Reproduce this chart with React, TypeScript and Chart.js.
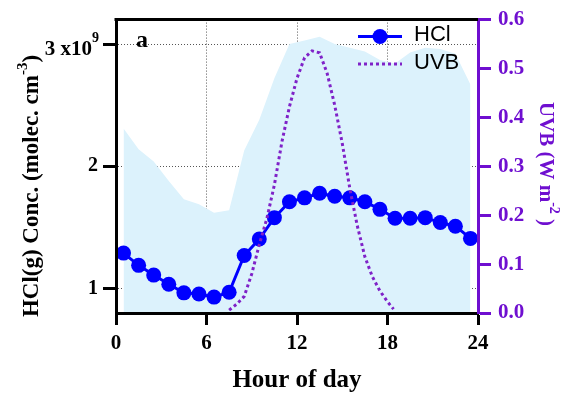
import { useEffect, useRef } from 'react';
import { Chart, registerables } from 'chart.js';

Chart.register(...registerables);

const SERIF = '"Liberation Serif", "Times New Roman", serif';
const SANS = '"Liberation Sans", Arial, sans-serif';
const BLUE = '#0000ff';
const PURPLE = '#6f0fd0';
const UVB_LINE = '#7f22c8';
const SHADE = '#dcf2fc';
const GRID = '#555555';

// Hourly HCl(g) means (x10^9 molec. cm^-3) and the upper envelope of the spread
const hours = [
  0.5, 1.5, 2.5, 3.5, 4.5, 5.5, 6.5, 7.5, 8.5, 9.5, 10.5, 11.5,
  12.5, 13.5, 14.5, 15.5, 16.5, 17.5, 18.5, 19.5, 20.5, 21.5, 22.5, 23.5,
];
const hclConc = [
  1.29, 1.19, 1.11, 1.035, 0.965, 0.955, 0.93, 0.97, 1.27, 1.405, 1.58, 1.71,
  1.742, 1.78, 1.755, 1.742, 1.71, 1.648, 1.575, 1.575, 1.58, 1.54, 1.51, 1.41,
];
const hclUpper = [
  2.31, 2.14, 2.04, 1.88, 1.73, 1.69, 1.62, 1.64, 2.13, 2.38, 2.72, 3.0,
  3.03, 3.06, 3.0, 2.97, 2.94, 2.87, 2.84, 2.93, 2.97, 2.96, 2.92, 2.67,
];

// UVB irradiance (W m^-2) through the daylight hours
const uvbHours = [
  7.5, 8.0, 8.5, 9.0, 9.5, 10.0, 10.5, 11.0, 11.5, 12.0, 12.5, 13.0,
  13.5, 14.0, 14.5, 15.0, 15.5, 16.0, 16.5, 17.0, 17.5, 18.0, 18.4,
];
const uvbValues = [
  0.006, 0.018, 0.034, 0.08, 0.14, 0.193, 0.262, 0.35, 0.422, 0.48, 0.522, 0.536,
  0.532, 0.49, 0.425, 0.347, 0.255, 0.178, 0.115, 0.074, 0.045, 0.023, 0.008,
];

const hourTicks = [0, 6, 12, 18, 24];
const concTicks = [1, 2, 3];
const uvbTicks = [0, 0.1, 0.2, 0.3, 0.4, 0.5, 0.6];

const decorations = {
  id: 'decorations',
  afterDraw(chart: any) {
    const { ctx, chartArea: a } = chart;
    const yScale = chart.scales.y;
    ctx.save();

    // top frame line
    ctx.strokeStyle = '#000';
    ctx.lineWidth = 3;
    ctx.beginPath();
    ctx.moveTo(a.left - 1.5, a.top);
    ctx.lineTo(a.right, a.top);
    ctx.stroke();

    // panel letter
    ctx.fillStyle = '#000';
    ctx.textAlign = 'left';
    ctx.textBaseline = 'alphabetic';
    ctx.font = `bold 24px ${SERIF}`;
    ctx.fillText('a', 136, 47);

    // top tick label carries the exponent
    const y3 = yScale.getPixelForValue(3);
    ctx.font = `bold 21px ${SERIF}`;
    ctx.textAlign = 'right';
    ctx.fillText('3 x10', 92, y3 + 11);
    ctx.font = `bold 14px ${SERIF}`;
    ctx.textAlign = 'left';
    ctx.fillText('9', 92, y3 - 2);

    // legend
    const lx0 = 358;
    const lx1 = 402;
    ctx.strokeStyle = BLUE;
    ctx.lineWidth = 3;
    ctx.beginPath();
    ctx.moveTo(lx0, 36.5);
    ctx.lineTo(lx1, 36.5);
    ctx.stroke();
    ctx.fillStyle = BLUE;
    ctx.beginPath();
    ctx.arc((lx0 + lx1) / 2, 36.5, 7.5, 0, Math.PI * 2);
    ctx.fill();
    ctx.strokeStyle = UVB_LINE;
    ctx.setLineDash([3, 3]);
    ctx.beginPath();
    ctx.moveTo(lx0, 64);
    ctx.lineTo(lx1, 64);
    ctx.stroke();
    ctx.setLineDash([]);
    ctx.fillStyle = '#000';
    ctx.font = `22px ${SANS}`;
    ctx.textBaseline = 'middle';
    ctx.fillText('HCl', 414, 35);
    ctx.fillText('UVB', 414, 63);

    // x axis title
    ctx.textBaseline = 'alphabetic';
    ctx.textAlign = 'center';
    ctx.font = `bold 25px ${SERIF}`;
    ctx.fillText('Hour of day', (a.left + a.right) / 2, 387);

    // left axis title
    ctx.save();
    ctx.translate(38, 186);
    ctx.rotate(-Math.PI / 2);
    ctx.textAlign = 'left';
    const leftMain = 'HCl(g) Conc. (molec. cm';
    ctx.font = `bold 23px ${SERIF}`;
    const lw1 = ctx.measureText(leftMain).width;
    const lw3 = ctx.measureText(')').width;
    ctx.font = `bold 15px ${SERIF}`;
    const lw2 = ctx.measureText('-3').width;
    let lx = -(lw1 + lw2 + lw3) / 2;
    ctx.font = `bold 23px ${SERIF}`;
    ctx.fillText(leftMain, lx, 0);
    lx += lw1;
    ctx.font = `bold 15px ${SERIF}`;
    ctx.fillText('-3', lx, -11);
    lx += lw2;
    ctx.font = `bold 23px ${SERIF}`;
    ctx.fillText(')', lx, 0);
    ctx.restore();

    // right axis title
    ctx.save();
    ctx.translate(540, 164);
    ctx.rotate(Math.PI / 2);
    ctx.fillStyle = PURPLE;
    ctx.textAlign = 'left';
    const rightMain = 'UVB (W m';
    ctx.font = `bold 21px ${SERIF}`;
    const rw1 = ctx.measureText(rightMain).width;
    const rw3 = ctx.measureText(' )').width;
    ctx.font = `bold 14px ${SERIF}`;
    const rw2 = ctx.measureText('-2').width;
    let rx = -(rw1 + rw2 + rw3) / 2;
    ctx.font = `bold 21px ${SERIF}`;
    ctx.fillText(rightMain, rx, 0);
    rx += rw1;
    ctx.font = `bold 14px ${SERIF}`;
    ctx.fillText('-2', rx, -10);
    rx += rw2;
    ctx.font = `bold 21px ${SERIF}`;
    ctx.fillText(' )', rx, 0);
    ctx.restore();

    ctx.restore();
  },
};

export default function App() {
  const canvasRef = useRef<HTMLCanvasElement>(null);

  useEffect(() => {
    const canvas = canvasRef.current;
    if (!canvas) return;
    const chart = new Chart(canvas, {
      type: 'line',
      data: {
        datasets: [
          {
            label: 'UVB',
            data: uvbHours.map((h, i) => ({ x: h, y: uvbValues[i] })),
            yAxisID: 'y2',
            borderColor: UVB_LINE,
            borderWidth: 3,
            borderDash: [3, 3],
            pointRadius: 0,
            fill: false,
            order: 1,
          },
          {
            label: 'HCl',
            data: hours.map((h, i) => ({ x: h, y: hclConc[i] })),
            yAxisID: 'y',
            borderColor: BLUE,
            borderWidth: 3,
            pointRadius: 7.5,
            pointBackgroundColor: BLUE,
            pointBorderColor: BLUE,
            pointBorderWidth: 0,
            fill: false,
            order: 2,
          },
          {
            label: 'HCl range',
            data: hours.map((h, i) => ({ x: h, y: hclUpper[i] })),
            yAxisID: 'y',
            borderWidth: 0,
            borderColor: SHADE,
            backgroundColor: SHADE,
            pointRadius: 0,
            fill: 'start',
            order: 3,
          },
        ],
      },
      options: {
        responsive: false,
        animation: false,
        devicePixelRatio: 1,
        layout: { padding: { top: 15, left: 0, right: 0, bottom: 0 } },
        plugins: {
          legend: { display: false },
          tooltip: { enabled: false },
        },
        scales: {
          x: {
            type: 'linear',
            min: 0,
            max: 24,
            afterBuildTicks: (s: any) => {
              s.ticks = hourTicks.map((v) => ({ value: v }));
            },
            afterFit: (s: any) => {
              s.height = 87;
            },
            grid: {
              color: GRID,
              lineWidth: 1,
              tickColor: '#000',
              tickWidth: 3,
              tickLength: 12,
            },
            border: { color: '#000', width: 3, dash: [1, 2], z: 1 },
            ticks: {
              color: '#000',
              padding: 6,
              maxRotation: 0,
              autoSkip: false,
              font: { family: SERIF, size: 21, weight: 'bold' },
              callback: (v: any) => String(v),
            },
          },
          y: {
            type: 'linear',
            position: 'left',
            min: 0.8,
            max: 3.2,
            afterBuildTicks: (s: any) => {
              s.ticks = concTicks.map((v) => ({ value: v }));
            },
            afterFit: (s: any) => {
              s.width = 116;
            },
            grid: {
              color: GRID,
              lineWidth: 1,
              tickColor: '#000',
              tickWidth: 3,
              tickLength: 13,
            },
            border: { color: '#000', width: 3, dash: [1, 2], z: 1 },
            ticks: {
              color: '#000',
              padding: 5,
              font: { family: SERIF, size: 20, weight: 'bold' },
              callback: (v: any) => (v === 3 ? '' : String(v)),
            },
          },
          y2: {
            type: 'linear',
            position: 'right',
            min: 0,
            max: 0.6,
            afterBuildTicks: (s: any) => {
              s.ticks = uvbTicks.map((v) => ({ value: v }));
            },
            afterFit: (s: any) => {
              s.width = 92;
            },
            grid: {
              drawOnChartArea: false,
              color: PURPLE,
              tickColor: PURPLE,
              tickWidth: 3,
              tickLength: 13,
            },
            border: { color: PURPLE, width: 3, z: 1 },
            ticks: {
              color: PURPLE,
              padding: 7,
              font: { family: SERIF, size: 21, weight: 'bold' },
              callback: (v: any) => Number(v).toFixed(1),
            },
          },
        },
      },
      plugins: [decorations],
    } as any);
    return () => chart.destroy();
  }, []);

  return (
    <div style={{ position: 'absolute', left: 0, top: 0, width: 570, height: 400 }}>
      <canvas
        ref={canvasRef}
        width={570}
        height={400}
        style={{ display: 'block', width: 570, height: 400 }}
      />
    </div>
  );
}
